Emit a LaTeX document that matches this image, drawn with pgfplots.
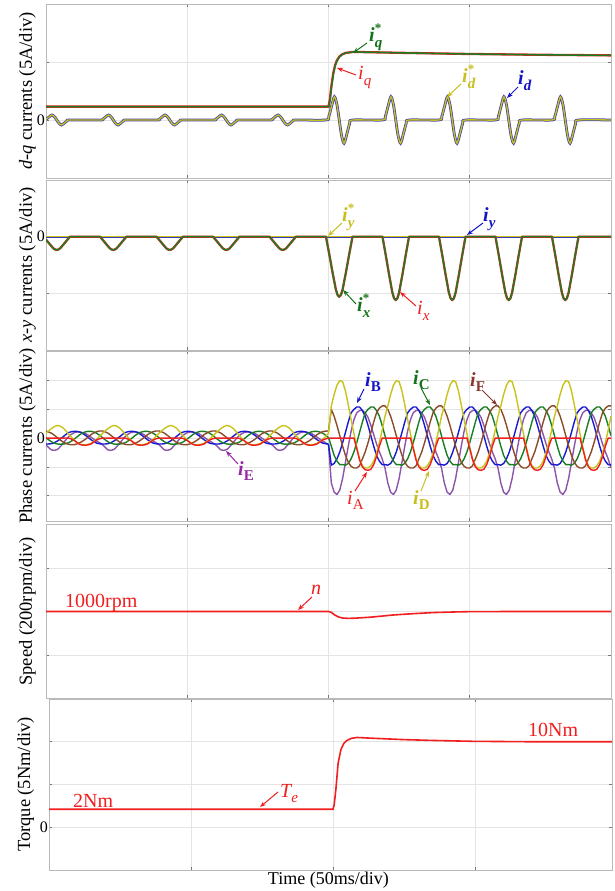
\documentclass[border=0pt]{standalone}
\usepackage{fontspec}
\setmainfont{Liberation Serif}
\usepackage{pgfplots}
\pgfplotsset{compat=1.18}
\usepackage{pgfplotstable}
\usetikzlibrary{arrows.meta}

\definecolor{cgreen}{RGB}{25,125,35}
\definecolor{cred}{RGB}{240,30,30}
\definecolor{cyel}{RGB}{200,195,25}
\definecolor{cblue}{RGB}{25,25,210}
\definecolor{cpurp}{RGB}{140,85,170}
\definecolor{cbrown}{RGB}{140,75,40}
\definecolor{lgreen}{RGB}{20,115,25}
\definecolor{lyel}{RGB}{200,190,30}
\definecolor{lblue}{RGB}{20,20,200}
\definecolor{lpurp}{RGB}{150,40,165}
\definecolor{lbrown}{RGB}{135,55,45}
\definecolor{gridc}{RGB}{228,228,228}
\definecolor{framec}{RGB}{185,185,185}
\definecolor{tickc}{RGB}{120,120,120}

\newcommand{\bi}{\bfseries\itshape}
\newcommand{\Lbs}[1]{{\bi i}\rlap{\raisebox{0.48em}{\fontsize{13}{13}\selectfont\bfseries *}}\raisebox{-0.3em}{\fontsize{15}{15}\selectfont\bi #1}}
\newcommand{\Lb}[1]{{\bi i}\raisebox{-0.3em}{\fontsize{15}{15}\selectfont\bi #1}}
\newcommand{\Lr}[1]{{\itshape i}\raisebox{-0.3em}{\fontsize{15}{15}\selectfont\itshape #1}}
\newcommand{\LB}[1]{{\bi i}\raisebox{-0.25em}{\fontsize{15}{15}\selectfont\bfseries #1}}
\newcommand{\LR}[1]{{\itshape i}\raisebox{-0.25em}{\fontsize{15}{15}\selectfont #1}}

\pgfplotsset{
  panel/.style={
    scale only axis, anchor=south west, width=565pt,
    xmin=0, xmax=200, xtick={50,100,150}, xticklabels={,,},
    grid=major, major grid style={draw=gridc, line width=0.6pt},
    axis line style={draw=framec, line width=0.8pt},
    tick style={draw=tickc, line width=0.6pt}, major tick length=3pt, tick align=inside,
    every axis y label/.style={at={(axis description cs:-0.0327,0.5)}, rotate=90, anchor=center, font=\fontsize{18.5}{18.5}\selectfont},
    yticklabel style={font=\fontsize{16}{16}\selectfont, inner sep=1pt},
  }
}
\tikzset{arr/.style={line width=1pt, -{Stealth[length=6pt,width=4.5pt]}}}

% d-axis current (id, id*)
\pgfplotstableread{
t y
0 0.05
1.1 0.26
2.1 0.43
3.0 0.28
3.8 0
4.6 -0.28
5.5 -0.43
6.5 -0.26
7.5 -0.065
8.5 0
19.1 0
20.1 0.065
21.1 0.26
22.1 0.43
23.0 0.28
23.8 0
24.6 -0.28
25.5 -0.43
26.5 -0.26
27.5 -0.065
28.5 0
39.1 0
40.1 0.065
41.1 0.26
42.1 0.43
43.0 0.28
43.8 0
44.6 -0.28
45.5 -0.43
46.5 -0.26
47.5 -0.065
48.5 0
59.1 0
60.1 0.065
61.1 0.26
62.1 0.43
63.0 0.28
63.8 0
64.6 -0.28
65.5 -0.43
66.5 -0.26
67.5 -0.065
68.5 0
79.1 0
80.1 0.065
81.1 0.26
82.1 0.43
83.0 0.28
83.8 0
84.6 -0.28
85.5 -0.43
86.5 -0.26
87.5 -0.065
88.5 0
99.1 0
100.1 0.3
101.1 1.2
102.1 2.0
103.0 1.3
103.8 0
104.6 -1.3
105.5 -2.0
106.5 -1.2
107.5 -0.3
108.5 0
119.1 0
120.1 0.3
121.1 1.2
122.1 2.0
123.0 1.3
123.8 0
124.6 -1.3
125.5 -2.0
126.5 -1.2
127.5 -0.3
128.5 0
139.1 0
140.1 0.3
141.1 1.2
142.1 2.0
143.0 1.3
143.8 0
144.6 -1.3
145.5 -2.0
146.5 -1.2
147.5 -0.3
148.5 0
159.1 0
160.1 0.3
161.1 1.2
162.1 2.0
163.0 1.3
163.8 0
164.6 -1.3
165.5 -2.0
166.5 -1.2
167.5 -0.3
168.5 0
179.1 0
180.1 0.3
181.1 1.2
182.1 2.0
183.0 1.3
183.8 0
184.6 -1.3
185.5 -2.0
186.5 -1.2
187.5 -0.3
188.5 0
200 0
}\idtab

% x-axis current (ix, ix*)
\pgfplotstableread{
t y
0 -0.26
0.3 -0.35
1.45 -0.7
2.6 -1.03
3.2 -1.13
3.8 -1.17
4.4 -1.13
5.0 -1.03
6.15 -0.7
7.3 -0.35
8.5 0
19.1 0
20.3 -0.35
21.45 -0.7
22.6 -1.03
23.2 -1.13
23.8 -1.17
24.4 -1.13
25.0 -1.03
26.15 -0.7
27.3 -0.35
28.5 0
39.1 0
40.3 -0.35
41.45 -0.7
42.6 -1.03
43.2 -1.13
43.8 -1.17
44.4 -1.13
45.0 -1.03
46.15 -0.7
47.3 -0.35
48.5 0
59.1 0
60.3 -0.35
61.45 -0.7
62.6 -1.03
63.2 -1.13
63.8 -1.17
64.4 -1.13
65.0 -1.03
66.15 -0.7
67.3 -0.35
68.5 0
79.1 0
80.3 -0.35
81.45 -0.7
82.6 -1.03
83.2 -1.13
83.8 -1.17
84.4 -1.13
85.0 -1.03
86.15 -0.7
87.3 -0.35
88.5 0
99.1 0
100.3 -1.59
101.45 -3.18
102.6 -4.66
103.2 -5.14
103.8 -5.3
104.4 -5.14
105.0 -4.66
106.15 -3.18
107.3 -1.59
108.5 0
119.1 0
120.3 -1.68
121.45 -3.36
122.6 -4.93
123.2 -5.43
123.8 -5.6
124.4 -5.43
125.0 -4.93
126.15 -3.36
127.3 -1.68
128.5 0
139.1 0
140.3 -1.68
141.45 -3.36
142.6 -4.93
143.2 -5.43
143.8 -5.6
144.4 -5.43
145.0 -4.93
146.15 -3.36
147.3 -1.68
148.5 0
159.1 0
160.3 -1.68
161.45 -3.36
162.6 -4.93
163.2 -5.43
163.8 -5.6
164.4 -5.43
165.0 -4.93
166.15 -3.36
167.3 -1.68
168.5 0
179.1 0
180.3 -1.68
181.45 -3.36
182.6 -4.93
183.2 -5.43
183.8 -5.6
184.4 -5.43
185.0 -4.93
186.15 -3.36
187.3 -1.68
188.5 0
200 0
}\ixtab

% phase currents before the load step
\pgfplotstableread{
t A B C D E F
0 0 -0.51 0.04 0.42 -0.57 0.62
2 0 -0.48 -0.33 0.84 -1.03 0.42
4 0 -0.26 -0.51 1.10 -0.99 0.04
6 0 0.11 -0.52 0.90 -0.46 -0.33
8 0 0.48 -0.40 0.35 0.13 -0.54
10 -0.20 0.59 -0.09 -0.18 0.48 -0.57
12 -0.55 0.53 0.31 -0.53 0.53 -0.40
14 -0.62 0.24 0.55 -0.57 0.40 -0.09
16 -0.50 -0.15 0.59 -0.44 0.07 0.31
18 -0.15 -0.44 0.42 -0.09 -0.26 0.57
20 0 -0.51 0.04 0.42 -0.57 0.62
22 0 -0.48 -0.33 0.84 -1.03 0.42
24 0 -0.26 -0.51 1.10 -0.99 0.04
26 0 0.11 -0.52 0.90 -0.46 -0.33
28 0 0.48 -0.40 0.35 0.13 -0.54
30 -0.20 0.59 -0.09 -0.18 0.48 -0.57
32 -0.55 0.53 0.31 -0.53 0.53 -0.40
34 -0.62 0.24 0.55 -0.57 0.40 -0.09
36 -0.50 -0.15 0.59 -0.44 0.07 0.31
38 -0.15 -0.44 0.42 -0.09 -0.26 0.57
40 0 -0.51 0.04 0.42 -0.57 0.62
42 0 -0.48 -0.33 0.84 -1.03 0.42
44 0 -0.26 -0.51 1.10 -0.99 0.04
46 0 0.11 -0.52 0.90 -0.46 -0.33
48 0 0.48 -0.40 0.35 0.13 -0.54
50 -0.20 0.59 -0.09 -0.18 0.48 -0.57
52 -0.55 0.53 0.31 -0.53 0.53 -0.40
54 -0.62 0.24 0.55 -0.57 0.40 -0.09
56 -0.50 -0.15 0.59 -0.44 0.07 0.31
58 -0.15 -0.44 0.42 -0.09 -0.26 0.57
60 0 -0.51 0.04 0.42 -0.57 0.62
62 0 -0.48 -0.33 0.84 -1.03 0.42
64 0 -0.26 -0.51 1.10 -0.99 0.04
66 0 0.11 -0.52 0.90 -0.46 -0.33
68 0 0.48 -0.40 0.35 0.13 -0.54
70 -0.20 0.59 -0.09 -0.18 0.48 -0.57
72 -0.55 0.53 0.31 -0.53 0.53 -0.40
74 -0.62 0.24 0.55 -0.57 0.40 -0.09
76 -0.50 -0.15 0.59 -0.44 0.07 0.31
78 -0.15 -0.44 0.42 -0.09 -0.26 0.57
80 0 -0.51 0.04 0.42 -0.57 0.62
82 0 -0.48 -0.33 0.84 -1.03 0.42
84 0 -0.26 -0.51 1.10 -0.99 0.04
86 0 0.11 -0.52 0.90 -0.46 -0.33
88 0 0.48 -0.40 0.35 0.13 -0.54
90 -0.20 0.59 -0.09 -0.18 0.48 -0.57
92 -0.55 0.53 0.31 -0.53 0.53 -0.40
94 -0.62 0.24 0.55 -0.57 0.40 -0.09
96 -0.50 -0.15 0.59 -0.44 0.07 0.31
98 -0.15 -0.44 0.42 -0.09 -0.26 0.57
100 0 -0.51 0.04 0.42 -0.57 0.62
}\phpre

% phase currents after the load step
\pgfplotstableread{
t A B C D E F
100 0 -0.51 0.04 0.42 -0.57 0.62
101 0 -2.35 -0.7 2.8 -3.9 2.5
102 0 -2.2 -1.5 3.8 -4.7 1.9
103 0 -1.8 -2.0 4.6 -4.9 1.1
104 0 -1.2 -2.3 5.0 -4.5 0.2
105 0 -0.4 -2.3 4.9 -3.5 -0.7
106 0 0.5 -2.35 4.1 -2.1 -1.5
107 0 1.4 -2.2 2.9 -0.7 -2.1
108 0 2.2 -1.8 1.6 0.6 -2.45
109 0 2.5 -1.2 0.4 1.6 -2.6
110 -0.9 2.7 -0.4 -0.8 2.2 -2.6
111 -1.9 2.7 0.5 -1.8 2.4 -2.4
112 -2.5 2.4 1.4 -2.4 2.4 -1.8
113 -2.75 1.9 2.2 -2.6 2.2 -1.2
114 -2.8 1.1 2.5 -2.6 1.8 -0.4
115 -2.7 0.2 2.7 -2.4 1.1 0.5
116 -2.3 -0.7 2.7 -2.0 0.3 1.4
117 -1.6 -1.5 2.4 -1.3 -0.5 2.2
118 -0.7 -2.0 1.9 -0.4 -1.2 2.6
119 0 -2.3 1.1 0.7 -1.8 2.8
120 0 -2.3 0.2 1.9 -2.6 2.8
121 0 -2.35 -0.7 2.8 -3.9 2.5
122 0 -2.2 -1.5 3.8 -4.7 1.9
123 0 -1.8 -2.0 4.6 -4.9 1.1
124 0 -1.2 -2.3 5.0 -4.5 0.2
125 0 -0.4 -2.3 4.9 -3.5 -0.7
126 0 0.5 -2.35 4.1 -2.1 -1.5
127 0 1.4 -2.2 2.9 -0.7 -2.1
128 0 2.2 -1.8 1.6 0.6 -2.45
129 0 2.5 -1.2 0.4 1.6 -2.6
130 -0.9 2.7 -0.4 -0.8 2.2 -2.6
131 -1.9 2.7 0.5 -1.8 2.4 -2.4
132 -2.5 2.4 1.4 -2.4 2.4 -1.8
133 -2.75 1.9 2.2 -2.6 2.2 -1.2
134 -2.8 1.1 2.5 -2.6 1.8 -0.4
135 -2.7 0.2 2.7 -2.4 1.1 0.5
136 -2.3 -0.7 2.7 -2.0 0.3 1.4
137 -1.6 -1.5 2.4 -1.3 -0.5 2.2
138 -0.7 -2.0 1.9 -0.4 -1.2 2.6
139 0 -2.3 1.1 0.7 -1.8 2.8
140 0 -2.3 0.2 1.9 -2.6 2.8
141 0 -2.35 -0.7 2.8 -3.9 2.5
142 0 -2.2 -1.5 3.8 -4.7 1.9
143 0 -1.8 -2.0 4.6 -4.9 1.1
144 0 -1.2 -2.3 5.0 -4.5 0.2
145 0 -0.4 -2.3 4.9 -3.5 -0.7
146 0 0.5 -2.35 4.1 -2.1 -1.5
147 0 1.4 -2.2 2.9 -0.7 -2.1
148 0 2.2 -1.8 1.6 0.6 -2.45
149 0 2.5 -1.2 0.4 1.6 -2.6
150 -0.9 2.7 -0.4 -0.8 2.2 -2.6
151 -1.9 2.7 0.5 -1.8 2.4 -2.4
152 -2.5 2.4 1.4 -2.4 2.4 -1.8
153 -2.75 1.9 2.2 -2.6 2.2 -1.2
154 -2.8 1.1 2.5 -2.6 1.8 -0.4
155 -2.7 0.2 2.7 -2.4 1.1 0.5
156 -2.3 -0.7 2.7 -2.0 0.3 1.4
157 -1.6 -1.5 2.4 -1.3 -0.5 2.2
158 -0.7 -2.0 1.9 -0.4 -1.2 2.6
159 0 -2.3 1.1 0.7 -1.8 2.8
160 0 -2.3 0.2 1.9 -2.6 2.8
161 0 -2.35 -0.7 2.8 -3.9 2.5
162 0 -2.2 -1.5 3.8 -4.7 1.9
163 0 -1.8 -2.0 4.6 -4.9 1.1
164 0 -1.2 -2.3 5.0 -4.5 0.2
165 0 -0.4 -2.3 4.9 -3.5 -0.7
166 0 0.5 -2.35 4.1 -2.1 -1.5
167 0 1.4 -2.2 2.9 -0.7 -2.1
168 0 2.2 -1.8 1.6 0.6 -2.45
169 0 2.5 -1.2 0.4 1.6 -2.6
170 -0.9 2.7 -0.4 -0.8 2.2 -2.6
171 -1.9 2.7 0.5 -1.8 2.4 -2.4
172 -2.5 2.4 1.4 -2.4 2.4 -1.8
173 -2.75 1.9 2.2 -2.6 2.2 -1.2
174 -2.8 1.1 2.5 -2.6 1.8 -0.4
175 -2.7 0.2 2.7 -2.4 1.1 0.5
176 -2.3 -0.7 2.7 -2.0 0.3 1.4
177 -1.6 -1.5 2.4 -1.3 -0.5 2.2
178 -0.7 -2.0 1.9 -0.4 -1.2 2.6
179 0 -2.3 1.1 0.7 -1.8 2.8
180 0 -2.3 0.2 1.9 -2.6 2.8
181 0 -2.35 -0.7 2.8 -3.9 2.5
182 0 -2.2 -1.5 3.8 -4.7 1.9
183 0 -1.8 -2.0 4.6 -4.9 1.1
184 0 -1.2 -2.3 5.0 -4.5 0.2
185 0 -0.4 -2.3 4.9 -3.5 -0.7
186 0 0.5 -2.35 4.1 -2.1 -1.5
187 0 1.4 -2.2 2.9 -0.7 -2.1
188 0 2.2 -1.8 1.6 0.6 -2.45
189 0 2.5 -1.2 0.4 1.6 -2.6
190 -0.9 2.7 -0.4 -0.8 2.2 -2.6
191 -1.9 2.7 0.5 -1.8 2.4 -2.4
192 -2.5 2.4 1.4 -2.4 2.4 -1.8
193 -2.75 1.9 2.2 -2.6 2.2 -1.2
194 -2.8 1.1 2.5 -2.6 1.8 -0.4
195 -2.7 0.2 2.7 -2.4 1.1 0.5
196 -2.3 -0.7 2.7 -2.0 0.3 1.4
197 -1.6 -1.5 2.4 -1.3 -0.5 2.2
198 -0.7 -2.0 1.9 -0.4 -1.2 2.6
199 0 -2.3 1.1 0.7 -1.8 2.8
200 0 -2.3 0.2 1.9 -2.6 2.8
}\phpost

\begin{document}
\begin{tikzpicture}
\useasboundingbox (0,0) rectangle (615pt,891pt);

% ---------- Panel 1: d-q currents ----------
\begin{axis}[panel, at={(46pt,713pt)}, height=174pt,
  ymin=-5, ymax=10, ytick={0,5}, yticklabels={0,{}},
  ylabel={\textit{d-q} currents (5A/div)}]
\addplot[cred, line width=2.3pt] coordinates {(0,1.15) (100,1.15) (100.5,1.8) (101,2.9) (101.7,4.05) (102.3,4.7) (102.9,5.1) (103.8,5.45) (104.7,5.64) (106,5.78) (108.8,5.87) (115,5.84) (130,5.77) (150,5.69) (175,5.62) (200,5.57)};
\addplot[cgreen, line width=1.5pt] coordinates {(0,1.15) (100.1,1.15) (100.6,1.8) (101.1,2.9) (101.8,4.05) (102.4,4.7) (103,5.1) (103.9,5.45) (104.8,5.64) (106.1,5.78) (108.9,5.87) (115,5.84) (130,5.77) (150,5.69) (175,5.62) (200,5.57)};
\addplot[cblue!60!gray, line width=2.8pt, smooth] table {\idtab};
\addplot[cyel, line width=1.3pt, smooth] table {\idtab};
\end{axis}

% ---------- Panel 2: x-y currents ----------
\begin{axis}[panel, at={(46pt,541pt)}, height=170pt,
  ymin=-10, ymax=5, ytick={-5,0}, yticklabels={{},0},
  ylabel={\textit{x-y} currents (5A/div)}]
\addplot[cblue!70!gray, line width=1.8pt] coordinates {(0,0) (200,0)};
\addplot[cyel, line width=1.1pt] coordinates {(0,0) (200,0)};
\addplot[cred, line width=2.3pt, line join=round] table {\ixtab};
\addplot[cgreen, line width=1.5pt, line join=round] table {\ixtab};
\end{axis}

% ---------- Panel 3: phase currents ----------
\begin{axis}[panel, at={(46pt,370pt)}, height=170pt,
  ymin=-7.2, ymax=7.57, ytick={-5,-2.5,0,2.5,5}, yticklabels={{},{},0,{},{}},
  ylabel={Phase currents (5A/div)}]
\addplot[cpurp, line width=1.4pt, smooth] table[x=t,y=E] {\phpre};
\addplot[cblue, line width=1.4pt, smooth] table[x=t,y=B] {\phpre};
\addplot[cgreen, line width=1.4pt, smooth] table[x=t,y=C] {\phpre};
\addplot[cbrown, line width=1.4pt, smooth] table[x=t,y=F] {\phpre};
\addplot[cyel, line width=1.4pt, smooth] table[x=t,y=D] {\phpre};
\addplot[cred, line width=1.4pt, smooth] table[x=t,y=A] {\phpre};
\addplot[cpurp, line width=1.4pt, line join=round] table[x=t,y=E] {\phpost};
\addplot[cblue, line width=1.4pt, line join=round] table[x=t,y=B] {\phpost};
\addplot[cgreen, line width=1.4pt, line join=round] table[x=t,y=C] {\phpost};
\addplot[cbrown, line width=1.4pt, line join=round] table[x=t,y=F] {\phpost};
\addplot[cyel, line width=1.4pt, line join=round] table[x=t,y=D] {\phpost};
\addplot[cred, line width=1.4pt, line join=round] table[x=t,y=A] {\phpost};
\end{axis}

% ---------- Panel 4: speed ----------
\begin{axis}[panel, at={(46pt,192.5pt)}, height=174pt,
  ymin=600, ymax=1400, ytick={800,1000,1200}, yticklabels={{},{},{}},
  ylabel={Speed (200rpm/div)}]
\addplot[cred, line width=1.6pt] coordinates {(0,1000) (100,1000) (101,996) (102.2,984) (103.5,975) (105,970) (107,968.5) (109,969) (115,974) (123,984) (130,990) (137,995) (145,998) (151,999.5) (170,1000) (200,1000)};
\end{axis}

% ---------- Panel 5: torque ----------
\begin{axis}[panel, at={(49.2pt,21pt)}, height=171pt, width=562.8pt, xmax=198.3,
  ymin=-5, ymax=15, ytick={0,5,10}, yticklabels={0,{},{}},
  every axis y label/.style={at={(axis description cs:-0.042,0.5)}, rotate=90, anchor=center, font=\fontsize{18.5}{18.5}\selectfont},
  ylabel={Torque (5Nm/div)},
  xlabel={Time (50ms/div)},
  every axis x label/.style={at={(axis description cs:0.496,0)}, anchor=center, yshift=-10pt, font=\fontsize{18}{18}\selectfont}]
\addplot[cred, line width=1.6pt] coordinates {(0,2.1) (100,2.1) (100.4,2.6) (101,4.4) (101.8,7.5) (102.8,9.1) (103.8,9.8) (104.9,10.15) (106.5,10.4) (108.4,10.5) (114.6,10.4) (125,10.25) (135.4,10.15) (149.3,10.05) (170,10.0) (198.3,10.0)};
\end{axis}

% ---------- annotations (pixel frame, y downwards) ----------
\begin{scope}[shift={(0pt,891pt)}, x=1pt, y=-1pt, every node/.style={inner sep=0pt, font=\fontsize{20}{20}\selectfont}]
\node[anchor=base west, text=lgreen] at (369,42) {\Lbs{q}};
\draw[lgreen, arr] (367,43) -- (353,53);
\node[anchor=base west, text=cred] at (358,80) {\Lr{q}};
\draw[cred, arr] (356,75) -- (337,68);
\node[anchor=base west, text=lyel] at (462,83) {\Lbs{d}};
\draw[lyel, arr] (461,84) -- (447,97);
\node[anchor=base west, text=lblue] at (518,85) {\Lb{d}};
\draw[lblue, arr] (518,87) -- (507,98);

\node[anchor=base west, text=lyel] at (342,222) {\Lbs{y}};
\draw[lyel, arr] (342,223) -- (328,236);
\node[anchor=base west, text=lblue] at (483,222) {\Lb{y}};
\draw[lblue, arr] (483,223) -- (467,235);
\node[anchor=base west, text=lgreen] at (357,312) {\Lbs{x}};
\draw[lgreen, arr] (356,304) -- (343,290);
\node[anchor=base west, text=cred] at (417,315) {\Lr{x}};
\draw[cred, arr] (416,306) -- (400,292);

\node[anchor=base west, text=lblue] at (365,387) {\LB{B}};
\draw[lblue, arr] (364,389) -- (357,403);
\node[anchor=base west, text=lgreen] at (413,385) {\LB{C}};
\draw[lgreen, arr] (421,388) -- (430,405);
\node[anchor=base west, text=lbrown] at (470,387) {\LB{F}};
\draw[lbrown, arr] (482,390) -- (497,405);
\node[anchor=base west, text=cred] at (347,505) {\LR{A}};
\draw[cred, arr] (355,491) -- (367,472);
\node[anchor=base west, text=lyel] at (413,505) {\LB{D}};
\draw[lyel, arr] (421,491) -- (429,471);
\node[anchor=base west, text=lpurp] at (238,476) {\LB{E}};
\draw[lpurp, arr] (238,464) -- (226,451);

\node[anchor=base west, text=cred] at (65,608) {1000rpm};
\node[anchor=base west, text=cred] at (311,595) {\itshape n};
\draw[cred, arr] (312,597) -- (298,610);

\node[anchor=base west, text=cred] at (73,808) {2Nm};
\node[anchor=base west, text=cred] at (528,737) {10Nm};
\node[anchor=base west, text=cred] at (280,798) {{\itshape T}\raisebox{-0.25em}{\fontsize{15}{15}\selectfont\itshape e}};
\draw[cred, arr] (278,792) -- (260,807);
\end{scope}
\end{tikzpicture}
\end{document}
